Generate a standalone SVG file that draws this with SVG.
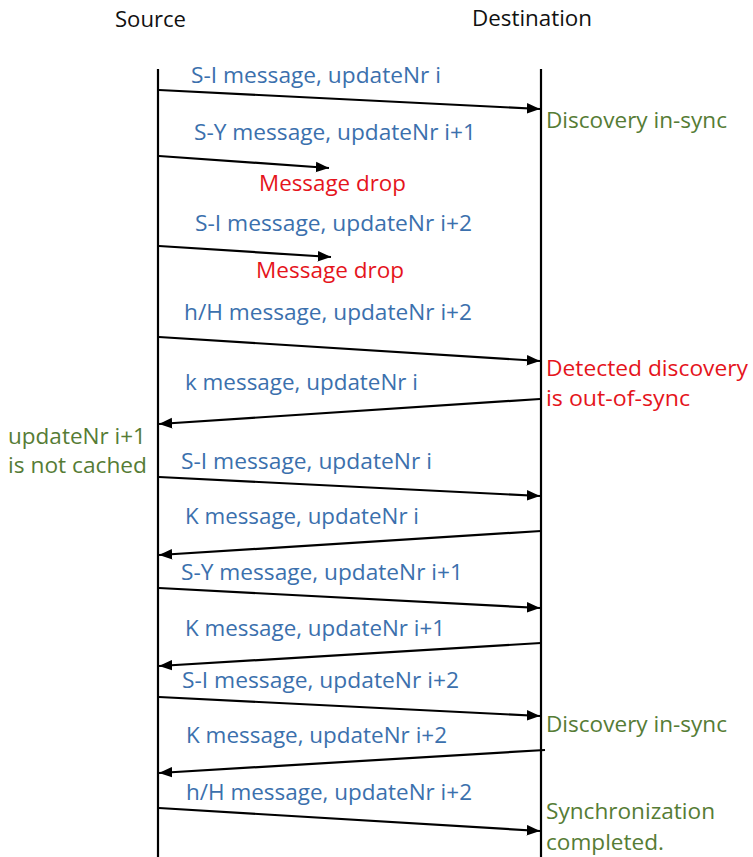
<svg xmlns="http://www.w3.org/2000/svg" width="753" height="857" viewBox="0 0 753 857">
  <style>
    text { font-family: "Open Sans", "Liberation Sans", sans-serif; font-size: 21px; }
    .hdr { fill: #111111; font-size: 21px; }
    .msg { fill: #3b70ad; }
    .drop { fill: #e5141c; }
    .ok { fill: #567c35; }
    .life { stroke: #000; stroke-width: 2.2; fill: none; }
    .arr { stroke: #000; stroke-width: 2.2; fill: none; marker-end: url(#head); }
  </style>
  <defs>
    <marker id="head" viewBox="0 0 10 8" refX="10" refY="4" markerWidth="6" markerHeight="5.2" orient="auto" markerUnits="strokeWidth">
      <path d="M0,0 L10,4 L0,8 Z" fill="#000"/>
    </marker>
  </defs>
  <rect width="753" height="857" fill="#ffffff"/>

  <!-- participants -->
  <g id="source">
    <text class="hdr" x="115" y="27" textLength="71" lengthAdjust="spacingAndGlyphs">Source</text>
    <line class="life" x1="158" y1="69" x2="158" y2="857"/>
  </g>
  <g id="destination">
    <text class="hdr" x="472" y="26" textLength="120" lengthAdjust="spacingAndGlyphs">Destination</text>
    <line class="life" x1="541" y1="69" x2="541" y2="857"/>
  </g>

  <!-- messages -->
  <g id="connectors">
    <line class="arr" x1="159" y1="90" x2="540" y2="109"/>
    <line class="arr" x1="159" y1="156" x2="329" y2="168"/>
    <line class="arr" x1="159" y1="246" x2="331" y2="257"/>
    <line class="arr" x1="159" y1="337" x2="540" y2="361"/>
    <line class="arr" x1="540" y1="399" x2="159" y2="424"/>
    <line class="arr" x1="159" y1="477" x2="540" y2="496"/>
    <line class="arr" x1="541" y1="531" x2="159" y2="555"/>
    <line class="arr" x1="159" y1="588" x2="540" y2="608"/>
    <line class="arr" x1="541" y1="643" x2="159" y2="666"/>
    <line class="arr" x1="159" y1="697" x2="540" y2="716"/>
    <line class="arr" x1="545" y1="750" x2="159" y2="773"/>
    <line class="arr" x1="159" y1="808" x2="540" y2="831"/>
  </g>

  <!-- message labels -->
  <g id="labels">
    <text class="msg" x="191" y="83" textLength="250" lengthAdjust="spacingAndGlyphs">S-I message, updateNr i</text>
    <text class="msg" x="194" y="140" textLength="282" lengthAdjust="spacingAndGlyphs">S-Y message, updateNr i+1</text>
    <text class="msg" x="195" y="231" textLength="277" lengthAdjust="spacingAndGlyphs">S-I message, updateNr i+2</text>
    <text class="msg" x="184" y="320" textLength="288" lengthAdjust="spacingAndGlyphs">h/H message, updateNr i+2</text>
    <text class="msg" x="185" y="390" textLength="233" lengthAdjust="spacingAndGlyphs">k message, updateNr i</text>
    <text class="msg" x="181" y="469" textLength="251" lengthAdjust="spacingAndGlyphs">S-I message, updateNr i</text>
    <text class="msg" x="185" y="524" textLength="234" lengthAdjust="spacingAndGlyphs">K message, updateNr i</text>
    <text class="msg" x="181" y="580" textLength="282" lengthAdjust="spacingAndGlyphs">S-Y message, updateNr i+1</text>
    <text class="msg" x="185" y="636" textLength="260" lengthAdjust="spacingAndGlyphs">K message, updateNr i+1</text>
    <text class="msg" x="182" y="688" textLength="277" lengthAdjust="spacingAndGlyphs">S-I message, updateNr i+2</text>
    <text class="msg" x="186" y="743" textLength="261" lengthAdjust="spacingAndGlyphs">K message, updateNr i+2</text>
    <text class="msg" x="186" y="800" textLength="286" lengthAdjust="spacingAndGlyphs">h/H message, updateNr i+2</text>
  </g>

  <!-- state notes -->
  <g id="notes">
    <text class="ok" x="546" y="128" textLength="181" lengthAdjust="spacingAndGlyphs">Discovery in-sync</text>
    <text class="drop" x="259" y="191" textLength="147" lengthAdjust="spacingAndGlyphs">Message drop</text>
    <text class="drop" x="256" y="278" textLength="148" lengthAdjust="spacingAndGlyphs">Message drop</text>
    <text class="drop" x="546" y="376" textLength="202" lengthAdjust="spacingAndGlyphs">Detected discovery</text>
    <text class="drop" x="546" y="406" textLength="144" lengthAdjust="spacingAndGlyphs">is out-of-sync</text>
    <text class="ok" x="8" y="444" textLength="138" lengthAdjust="spacingAndGlyphs">updateNr i+1</text>
    <text class="ok" x="8" y="473" textLength="139" lengthAdjust="spacingAndGlyphs">is not cached</text>
    <text class="ok" x="546" y="732" textLength="181" lengthAdjust="spacingAndGlyphs">Discovery in-sync</text>
    <text class="ok" x="546" y="819" textLength="169" lengthAdjust="spacingAndGlyphs">Synchronization</text>
    <text class="ok" x="546" y="850" textLength="118" lengthAdjust="spacingAndGlyphs">completed.</text>
  </g>
</svg>
